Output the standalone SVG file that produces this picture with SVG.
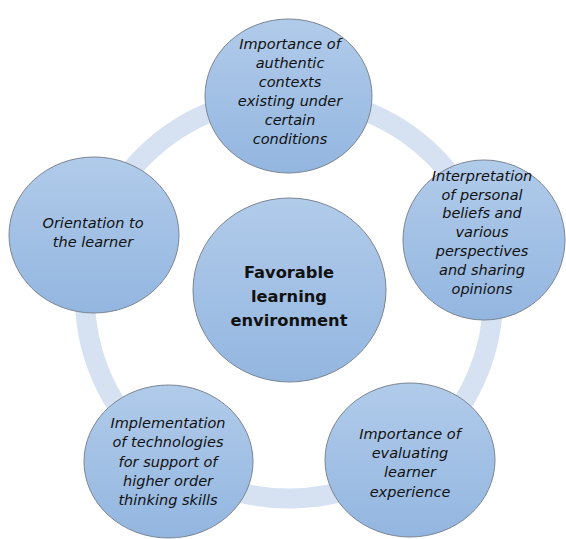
<svg xmlns="http://www.w3.org/2000/svg" width="566" height="539" viewBox="0 0 566 539">
<defs>
<linearGradient id="g" x1="0" y1="0" x2="0" y2="1">
<stop offset="0" stop-color="#b1cbea"/>
<stop offset="1" stop-color="#93b6e0"/>
</linearGradient>
</defs>
<style>
.n{fill:url(#g);stroke:#7b8592;stroke-width:1}
.t{font-family:"DejaVu Sans",sans-serif;font-style:italic;font-size:14.5px;fill:#111;text-anchor:middle}
.c{font-family:"DejaVu Sans",sans-serif;font-weight:bold;font-size:16.3px;fill:#111;text-anchor:middle}
</style>
<rect width="566" height="539" fill="#fff"/>
<g id="connectors">
<ellipse cx="289" cy="297.5" rx="204" ry="201" fill="none" stroke="#d6e2f2" stroke-width="20"/>
</g>
<g id="center">
<ellipse class="n" cx="289.5" cy="290" rx="96.5" ry="92"/>
<text class="c" x="289" y="278">Favorable</text>
<text class="c" x="289" y="302">learning</text>
<text class="c" x="289" y="326">environment</text>
</g>
<g id="top">
<ellipse class="n" cx="288.5" cy="96" rx="83.5" ry="77"/>
<text class="t" x="290" y="49">Importance of</text>
<text class="t" x="290" y="68">authentic</text>
<text class="t" x="290" y="87">contexts</text>
<text class="t" x="290" y="106">existing under</text>
<text class="t" x="290" y="125">certain</text>
<text class="t" x="290" y="144">conditions</text>
</g>
<g id="right">
<ellipse class="n" cx="484" cy="240" rx="81" ry="80"/>
<text class="t" x="482" y="181">Interpretation</text>
<text class="t" x="482" y="200">of personal</text>
<text class="t" x="482" y="218">beliefs and</text>
<text class="t" x="482" y="237">various</text>
<text class="t" x="482" y="256">perspectives</text>
<text class="t" x="482" y="275">and sharing</text>
<text class="t" x="482" y="294">opinions</text>
</g>
<g id="left">
<ellipse class="n" cx="94" cy="235" rx="85" ry="78"/>
<text class="t" x="93" y="228">Orientation to</text>
<text class="t" x="93" y="247">the learner</text>
</g>
<g id="bottom-left">
<ellipse class="n" cx="168.5" cy="461.5" rx="84.5" ry="76.5"/>
<text class="t" x="168" y="428">Implementation</text>
<text class="t" x="168" y="447">of technologies</text>
<text class="t" x="168" y="467">for support of</text>
<text class="t" x="168" y="486">higher order</text>
<text class="t" x="168" y="505">thinking skills</text>
</g>
<g id="bottom-right">
<ellipse class="n" cx="410" cy="460" rx="85" ry="77"/>
<text class="t" x="410" y="439">Importance of</text>
<text class="t" x="410" y="458">evaluating</text>
<text class="t" x="410" y="477">learner</text>
<text class="t" x="410" y="497">experience</text>
</g>
</svg>
